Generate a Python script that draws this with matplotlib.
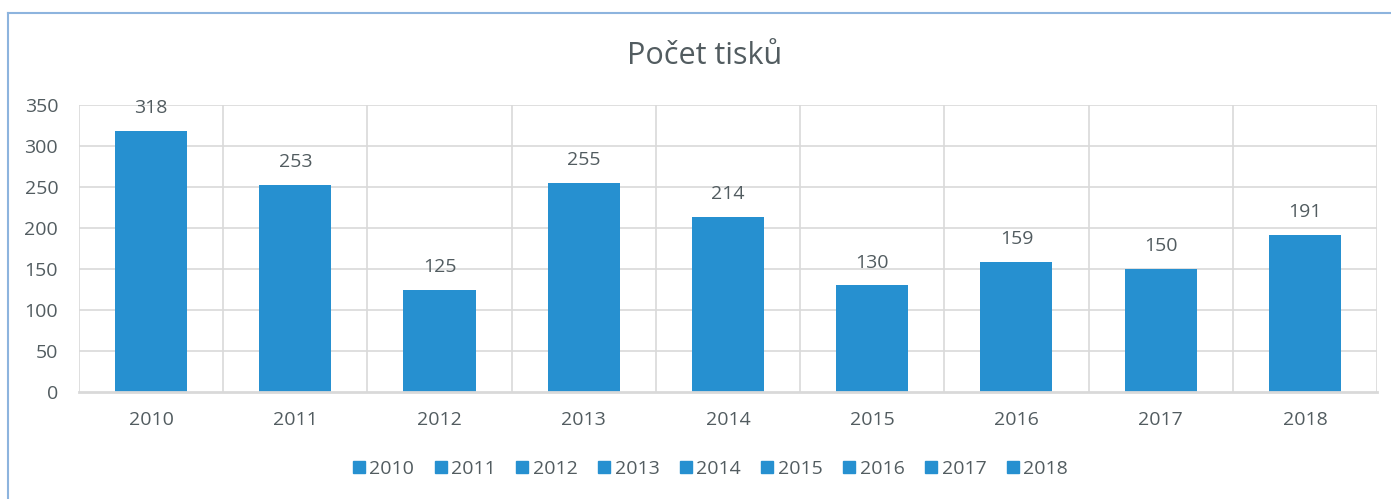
import matplotlib
matplotlib.use("Agg")
import matplotlib.pyplot as plt
from matplotlib.lines import Line2D

categories = ["2010", "2011", "2012", "2013", "2014", "2015", "2016", "2017", "2018"]
values = [318, 253, 125, 255, 214, 130, 159, 150, 191]
yticks = [0, 50, 100, 150, 200, 250, 300, 350]
title = "Počet tisků"

BAR = "#2690D0"
TXT = "#525C60"
GRID = "#D9D9D9"

plt.rcParams['font.family'] = ['Open Sans', 'DejaVu Sans']

fig = plt.figure(figsize=(13.91, 4.99), dpi=100)
ax = fig.add_axes([79/1391, 1-392/499, (1377-79)/1391, (392-105)/499])

x = list(range(len(categories)))
bars = ax.bar(x, values, width=0.5, color=BAR, zorder=3)

ax.set_xlim(-0.5, len(categories)-0.5)
ax.set_ylim(0, 350)
ax.set_yticks(yticks)
ax.set_xticks(x)
ax.set_xticklabels(categories)

for s in ax.spines.values():
    s.set_visible(False)
ax.spines['bottom'].set_visible(True)
ax.spines['bottom'].set_color(GRID)
ax.spines['bottom'].set_linewidth(2)
ax.spines['bottom'].set_zorder(4)

for yv in yticks[1:]:
    ax.axhline(yv, color=GRID, lw=1.2, zorder=1)
for xv in [i - 0.5 for i in range(len(categories)+1)]:
    ax.axvline(xv, color=GRID, lw=1.2, zorder=1)

ax.tick_params(axis='both', length=0, labelsize=14, colors=TXT)
ax.tick_params(axis='y', pad=15)
ax.tick_params(axis='x', pad=14)

for xi, v in zip(x, values):
    ax.annotate(str(v), (xi, v), xytext=(0, 10), textcoords='offset points',
                ha='center', va='bottom', fontsize=14, color=TXT)

fig.text(705/1391, 1-56/499, title, ha='center', va='center', fontsize=22, color=TXT)

handles = [Line2D([], [], marker='s', linestyle='none', markersize=9,
                  markerfacecolor=BAR, markeredgecolor=BAR) for _ in categories]
fig.legend(handles, categories, loc='center', bbox_to_anchor=(710/1391, 1-469/499),
           ncol=len(categories), frameon=False, fontsize=14, labelcolor=TXT,
           handlelength=0.7, handletextpad=0.2, columnspacing=1.0)

# chart area border (top and left visible)
border_color = "#8DB4DE"
fig.add_artist(Line2D([8/1391, 8/1391], [0, 1-13/499], transform=fig.transFigure,
                      color=border_color, lw=1.5))
fig.add_artist(Line2D([8/1391, 1], [1-13/499, 1-13/499], transform=fig.transFigure,
                      color=border_color, lw=1.5))

fig.savefig("out.png", dpi=100)
